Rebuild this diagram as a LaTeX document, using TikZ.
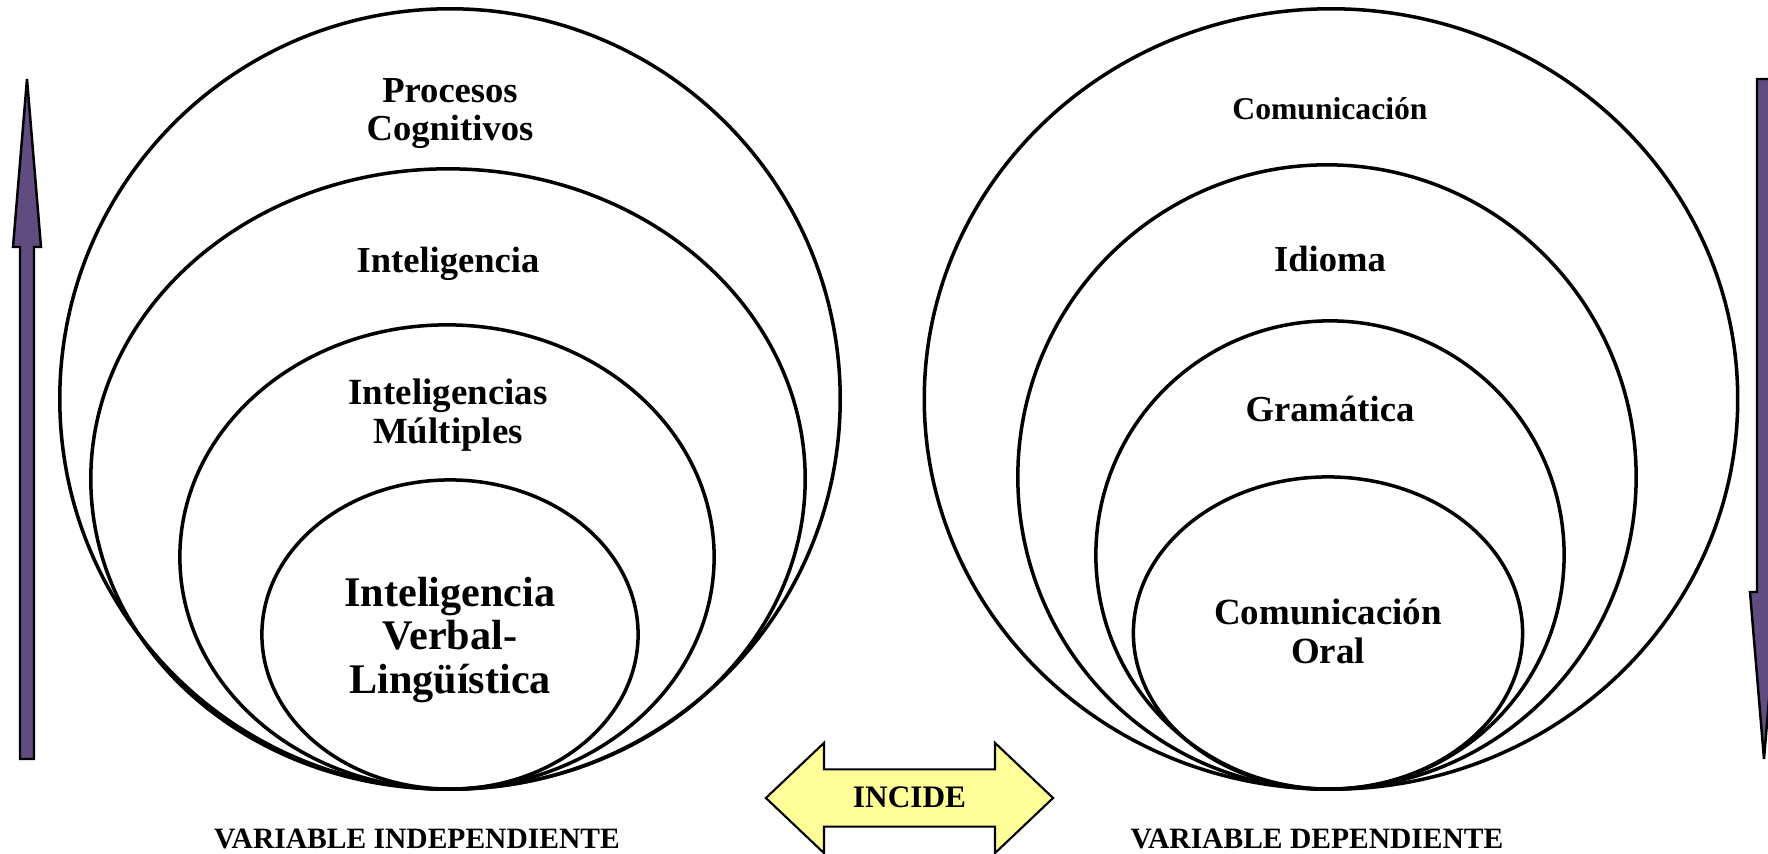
\documentclass[tikz,border=0pt]{standalone}
\usepackage{fontspec}
\setmainfont{Liberation Serif}
\usetikzlibrary{shapes.geometric, shapes.arrows, positioning, calc}
\definecolor{vpurple}{RGB}{96,76,128}
\definecolor{pale}{RGB}{255,255,153}
\tikzstyle{ring} = [ellipse, draw=black, line width=1pt, inner sep=0pt]
\tikzstyle{lbl} = [align=center, inner sep=0pt, font=\bfseries\fontsize{10.4}{10.8}\selectfont]
\tikzstyle{biglbl} = [align=center, inner sep=0pt, font=\bfseries\fontsize{12}{12.5}\selectfont]
\tikzstyle{varlbl} = [inner sep=0pt, font=\bfseries\fontsize{8.4}{10}\selectfont]
\tikzstyle{levarrow} = [draw=black, line width=0.7pt, fill=vpurple]
\tikzstyle{incide} = [double arrow, draw=black, line width=0.6pt, fill=pale, double arrow head extend=0.265cm, double arrow tip angle=87, minimum height=2.87cm, text height=0.22cm, text depth=0.03cm, inner ysep=0.15cm, inner xsep=0pt, font=\bfseries\fontsize{8.9}{10}\selectfont]

\begin{document}
\begin{tikzpicture}[x=0.01cm, y=-0.01cm]
    \clip (0,0) rectangle (1768,854);
    % independent variable
    \node (proc) [ring, minimum width=7.8cm, minimum height=7.8cm] at (450,399) {};
    \node (intel) [ring, minimum width=7.14cm, minimum height=6.2cm] at (448,479) {};
    \node (multi) [ring, minimum width=5.34cm, minimum height=4.64cm] at (447,557) {};
    \node (verbal) [ring, minimum width=3.76cm, minimum height=3.09cm] at (450,634.5) {};
    \node (proctxt) [lbl] at (450,113.5) {Procesos\\Cognitivos};
    \node (inteltxt) [lbl] at (448,264) {Inteligencia};
    \node (multitxt) [lbl, font=\bfseries\fontsize{10.5}{10.9}\selectfont] at (448,415) {Inteligencias\\Múltiples};
    \node (verbaltxt) [biglbl] at (450,640) {Inteligencia\\Verbal-\\Lingüística};

    % dependent variable
    \node (comun) [ring, minimum width=8.13cm, minimum height=7.8cm] at (1331,399) {};
    \node (idioma) [ring, minimum width=6.18cm, minimum height=6.24cm] at (1327,477) {};
    \node (gram) [ring, minimum width=4.68cm, minimum height=4.68cm] at (1330,555) {};
    \node (oral) [ring, minimum width=3.89cm, minimum height=3.12cm] at (1328,633) {};
    \node (comuntxt) [lbl, font=\bfseries\fontsize{9}{10}\selectfont] at (1330,109) {Comunicación};
    \node (idiomatxt) [lbl] at (1330,259) {Idioma};
    \node (gramtxt) [lbl] at (1330,409) {Gramática};
    \node (oraltxt) [lbl, font=\bfseries\fontsize{10.5}{11.1}\selectfont] at (1328,631) {Comunicación\\Oral};

    % link and captions
    \node (incide) [incide] at (909.5,798) {INCIDE};
    \node (vind) [varlbl] at (417,839) {VARIABLE INDEPENDIENTE};
    \node (vdep) [varlbl] at (1317,839) {VARIABLE DEPENDIENTE};

    % side arrows
    \draw [levarrow] (27,79) -- (41,247) -- (34,247) -- (34,759) -- (20,759) -- (20,247) -- (13,247) -- cycle;
    \draw [levarrow] (1757,79) -- (1771,79) -- (1771,592) -- (1778,592) -- (1764,759) -- (1750,592) -- (1757,592) -- cycle;
\end{tikzpicture}
\end{document}
